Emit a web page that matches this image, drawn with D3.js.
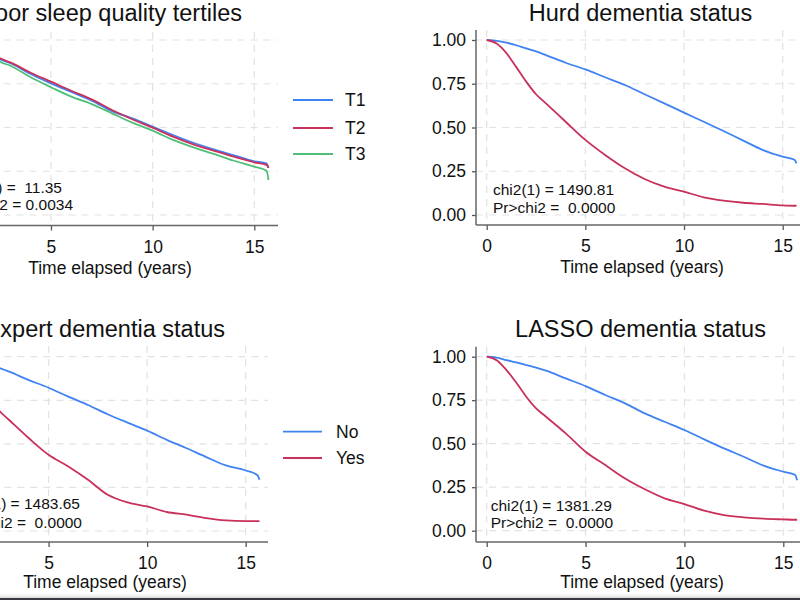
<!DOCTYPE html>
<html><head><meta charset="utf-8">
<script src="https://cdn.jsdelivr.net/npm/d3@7"></script>
<style>
body{margin:0;background:#fff}
svg{display:block}
text{font-family:"Liberation Sans",Arial,sans-serif;white-space:pre;fill:#111}
</style>
</head><body><svg width="800" height="600"></svg>
<script>
// ---------- data ----------
const years = [0,0.5,1,1.5,2,2.5,3,4,5,6,7,8,9,10,11,12,13,14,15,15.6,15.7];
const xTicks = [0,5,10,15];
const yTicks = [0,0.25,0.5,0.75,1];

const sleepT1 = [1.0,0.99,0.975,0.955,0.93,0.89,0.867,0.806,0.752,0.703,0.653,0.594,0.552,0.505,0.457,0.413,0.375,0.341,0.307,0.295,0.27];
const sleepT2 = [1.0,0.99,0.975,0.955,0.932,0.895,0.872,0.813,0.762,0.71,0.661,0.60,0.547,0.499,0.448,0.404,0.368,0.333,0.301,0.286,0.27];
const sleepT3 = [1.0,0.99,0.972,0.95,0.925,0.876,0.853,0.787,0.73,0.676,0.634,0.581,0.528,0.482,0.429,0.387,0.349,0.31,0.276,0.253,0.2];

const hurdNo  = [1.0,0.995,0.985,0.97,0.952,0.935,0.914,0.87,0.832,0.787,0.743,0.69,0.638,0.585,0.533,0.48,0.425,0.371,0.333,0.316,0.295];
const hurdYes = [1.0,0.98,0.925,0.845,0.762,0.69,0.638,0.533,0.429,0.343,0.267,0.206,0.162,0.133,0.101,0.082,0.07,0.063,0.055,0.053,0.053];

const expertNo  = [1.0,0.995,0.985,0.97,0.952,0.935,0.914,0.866,0.822,0.771,0.723,0.67,0.622,0.576,0.523,0.475,0.424,0.376,0.347,0.32,0.294];
const expertYes = [1.0,0.98,0.925,0.85,0.765,0.69,0.637,0.532,0.437,0.37,0.294,0.208,0.164,0.141,0.109,0.094,0.074,0.061,0.057,0.057,0.057];

const lassoNo  = [1.0,0.995,0.98,0.967,0.952,0.937,0.92,0.875,0.831,0.78,0.732,0.674,0.626,0.579,0.525,0.473,0.425,0.374,0.339,0.32,0.29];
const lassoYes = [1.0,0.98,0.923,0.85,0.77,0.703,0.655,0.559,0.454,0.377,0.30,0.238,0.186,0.153,0.115,0.09,0.077,0.069,0.065,0.063,0.063];

const tertileLabels = ["T1","T2","T3"];
const statusLabels = ["No","Yes"];
const titles = ["Poor sleep quality tertiles","Hurd dementia status","Expert dementia status","LASSO dementia status"];
const stats = [["chi2(2) =  11.35","Pr>chi2 = 0.0034"],["chi2(1) = 1490.81","Pr>chi2 =  0.0000"],["chi2(1) = 1483.65","Pr>chi2 =  0.0000"],["chi2(1) = 1381.29","Pr>chi2 =  0.0000"]];
const xTitle = "Time elapsed (years)";

const BLUE = "#3f83f2", RED = "#c9305a", GREEN = "#4fbe78";

// ---------- drawing ----------
const svg = d3.select("svg");
svg.append("rect").attr("width",800).attr("height",600).attr("fill","#fff");

function panel(c){
  const g = svg.append("g");
  const x = d3.scaleLinear().domain([0,15]).range([c.x0, c.x15]);
  const y = d3.scaleLinear().domain([0,1]).range([c.yZero, c.yOne]);
  const axL = c.x0 - 10.7;
  g.selectAll(".hg").data(yTicks).join("line")
    .attr("x1",axL).attr("x2",c.right).attr("y1",d=>y(d)).attr("y2",d=>y(d))
    .attr("stroke","#e2e2e2").attr("stroke-width",1.2).attr("stroke-dasharray","7,6");
  g.selectAll(".vg").data(xTicks).join("line")
    .attr("y1",c.top).attr("y2",c.bottom).attr("x1",d=>x(d)).attr("x2",d=>x(d))
    .attr("stroke","#e2e2e2").attr("stroke-width",1.2).attr("stroke-dasharray","7,6");
  const xa = g.append("g").attr("transform",`translate(0,${c.bottom})`)
    .call(d3.axisBottom(x).tickValues(xTicks).tickSize(5).tickPadding(10).tickSizeOuter(0));
  xa.select(".domain").remove();
  xa.selectAll("line").attr("stroke","#555").attr("stroke-width",1.3);
  xa.selectAll("text").attr("font-size",17.5).attr("fill","#111").style("font-family",'"Liberation Sans",Arial,sans-serif');
  g.append("line").attr("x1",axL).attr("x2",c.right).attr("y1",c.bottom).attr("y2",c.bottom)
    .attr("stroke","#666").attr("stroke-width",1.5);
  const ya = g.append("g").attr("transform",`translate(${axL},0)`)
    .call(d3.axisLeft(y).tickValues(yTicks).tickFormat(d3.format(".2f")).tickSize(4).tickPadding(6).tickSizeOuter(0));
  ya.select(".domain").remove();
  ya.selectAll("line").attr("stroke","#555").attr("stroke-width",1.3);
  ya.selectAll("text").attr("font-size",17.5).attr("fill","#111").style("font-family",'"Liberation Sans",Arial,sans-serif');
  g.append("line").attr("x1",axL).attr("x2",axL).attr("y1",c.top).attr("y2",c.bottom)
    .attr("stroke","#666").attr("stroke-width",1.5);
  const line = d3.line().x(d=>x(d[0])).y(d=>y(d[1])).curve(d3.curveMonotoneX);
  c.series.forEach(s=>{
    g.append("path").datum(years.map((t,i)=>[t,s.values[i]]))
      .attr("d",line).attr("fill","none").attr("stroke",s.color).attr("stroke-width",1.8);
  });
  g.append("text").attr("x",c.titleX).attr("y",c.titleY).attr("text-anchor",c.titleAnchor)
    .attr("font-size",23.5).text(c.title);
  g.append("text").attr("x",c.xtX).attr("y",c.xtY).attr("text-anchor","middle").attr("font-size",17.5).text(xTitle);
  c.stats.forEach((t,i)=>{
    g.append("text").attr("x",c.statX[i]).attr("y",c.statY[i]).attr("text-anchor",c.statAnchor)
      .attr("font-size",15.5).text(t);
  });
  if(c.legend){
    c.series.forEach((s,i)=>{
      const ly = c.legend.y[i];
      g.append("line").attr("x1",c.legend.x1).attr("x2",c.legend.x2).attr("y1",ly).attr("y2",ly)
        .attr("stroke",s.color).attr("stroke-width",1.8);
      g.append("text").attr("x",c.legend.tx).attr("y",ly).attr("dy","0.36em").attr("font-size",17.5).text(s.label);
    });
  }
}

panel({x0:-50.7,x15:254.3,yZero:215,yOne:40,top:32,bottom:225.5,right:278,
  series:[{values:sleepT1,color:BLUE,label:tertileLabels[0]},{values:sleepT2,color:RED,label:tertileLabels[1]},{values:sleepT3,color:GREEN,label:tertileLabels[2]}],
  title:titles[0],titleX:242,titleY:21,titleAnchor:"end",xtX:110,xtY:274,
  stats:stats[0],statX:[62,73],statY:[192.5,210],statAnchor:"end",
  legend:{x1:293,x2:333,tx:345,y:[100,128,154]}});

panel({x0:486.7,x15:782.7,yZero:215,yOne:40,top:30,bottom:225,right:805,
  series:[{values:hurdNo,color:BLUE},{values:hurdYes,color:RED}],
  title:titles[1],titleX:640.5,titleY:21,titleAnchor:"middle",xtX:642,xtY:273,
  stats:stats[1],statX:[493,493],statY:[195,212.5],statAnchor:"start"});

panel({x0:-50,x15:245.7,yZero:531,yOne:356.7,top:346,bottom:542,right:268,
  series:[{values:expertNo,color:BLUE,label:statusLabels[0]},{values:expertYes,color:RED,label:statusLabels[1]}],
  title:titles[2],titleX:225,titleY:336.5,titleAnchor:"end",xtX:105,xtY:588,
  stats:stats[2],statX:[80,82],statY:[509,527.5],statAnchor:"end",
  legend:{x1:283,x2:322,tx:336,y:[431.7,458]}});

panel({x0:486.7,x15:783.3,yZero:530.7,yOne:356.7,top:346.7,bottom:542,right:805,
  series:[{values:lassoNo,color:BLUE},{values:lassoYes,color:RED}],
  title:titles[3],titleX:640.5,titleY:336.5,titleAnchor:"middle",xtX:642,xtY:588,
  stats:stats[3],statX:[490.7,490.7],statY:[510.5,528.3],statAnchor:"start"});

const grad = svg.append("defs").append("linearGradient").attr("id","bg").attr("x1",0).attr("x2",0).attr("y1",0).attr("y2",1);
grad.append("stop").attr("offset","0%").attr("stop-color","#ffffff").attr("stop-opacity",0);
grad.append("stop").attr("offset","100%").attr("stop-color","#d8d8d8");
svg.append("rect").attr("x",0).attr("y",592).attr("width",800).attr("height",6).attr("fill","url(#bg)");
svg.append("rect").attr("x",0).attr("y",598).attr("width",800).attr("height",2).attr("fill","#3b3644");
</script>
</body></html>
